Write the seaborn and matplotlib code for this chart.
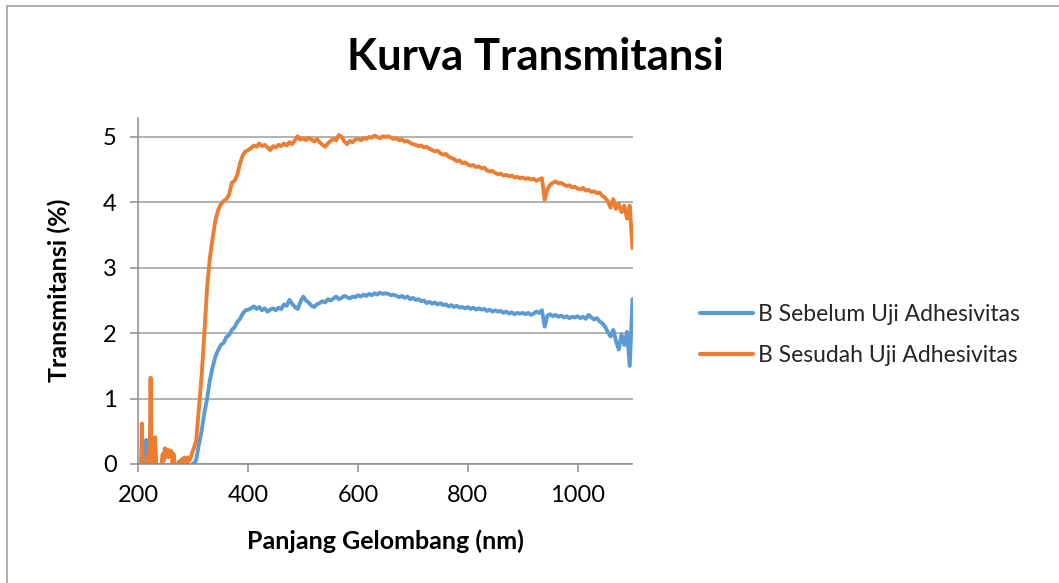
import numpy as np
import pandas as pd
import matplotlib
matplotlib.use("Agg")
import matplotlib.pyplot as plt
from matplotlib.lines import Line2D
import seaborn as sns

# ---------------- data ----------------
series_names = ["B Sebelum Uji Adhesivitas", "B Sesudah Uji Adhesivitas"]
colors = ["#5B9BD5", "#ED7D31"]

# wavelength grids (nm)
wl_noise = np.arange(200, 301, 2)      # 200..300 nm, 2 nm step
wl_main = np.arange(305, 1101, 5)      # 305..1100 nm, 5 nm step

sebelum_noise = [
    -0.5, -0.4, -0.6, -0.3, -0.5, -0.2, 0.0, 0.37, 0.10, -0.3,
    -0.4, -0.2, -0.5, -0.3, -0.4, -0.2, -0.3, -0.5, -0.4, -0.3,
    -0.4, -0.3, -0.2, -0.3, -0.2, -0.3, -0.2, -0.3, -0.2, -0.3,
    -0.2, -0.1, 0.0, -0.1, -0.2, -0.1, -0.2, -0.1, 0.0, 0.04,
    0.06, 0.0, -0.1, -0.05, -0.1, -0.05, -0.1, -0.05, -0.03, 0.0,
    0.0,
]
sesudah_noise = [
    -0.3, -0.2, -0.4, 0.62, -0.3, -0.1, 0.0, -0.2, 0.12, 0.0,
    -0.3, 1.32, -0.2, 0.0, -0.1, 0.41, 0.05, -0.3, -0.2, -0.4,
    -0.1, 0.0, 0.15, 0.05, 0.24, 0.20, 0.22, 0.10, 0.21, 0.15,
    0.20, 0.0, 0.15, 0.0, -0.2, -0.3, -0.1, 0.04, -0.1, 0.06,
    0.08, -0.05, 0.10, 0.02, -0.1, 0.10, 0.05, 0.08, 0.12, 0.18,
    0.22,
]

sebelum_main = [
    0.06, 0.30, 0.50, 0.78, 1.00, 1.28, 1.48, 1.64, 1.74, 1.82,
    1.85, 1.94, 1.97, 2.05, 2.09, 2.17, 2.22, 2.30, 2.35, 2.36,
    2.38, 2.41, 2.37, 2.40, 2.35, 2.38, 2.33, 2.36, 2.38, 2.35,
    2.39, 2.37, 2.44, 2.42, 2.51, 2.45, 2.40, 2.37, 2.48, 2.56,
    2.50, 2.47, 2.42, 2.40, 2.44, 2.46, 2.49, 2.47, 2.52, 2.50,
    2.53, 2.56, 2.52, 2.54, 2.57, 2.55, 2.53, 2.56, 2.55, 2.58,
    2.56, 2.59, 2.57, 2.60, 2.58, 2.61, 2.59, 2.62, 2.60, 2.61,
    2.60, 2.58, 2.59, 2.57, 2.55, 2.57, 2.54, 2.56, 2.52, 2.54,
    2.51, 2.52, 2.49, 2.50, 2.46, 2.48, 2.45, 2.47, 2.44, 2.46,
    2.43, 2.44, 2.41, 2.43, 2.40, 2.42, 2.39, 2.40, 2.38, 2.40,
    2.37, 2.39, 2.36, 2.38, 2.36, 2.37, 2.34, 2.36, 2.33, 2.35,
    2.33, 2.34, 2.31, 2.33, 2.30, 2.32, 2.29, 2.31, 2.30, 2.31,
    2.29, 2.31, 2.28, 2.30, 2.33, 2.31, 2.35, 2.10, 2.27, 2.29,
    2.26, 2.28, 2.25, 2.27, 2.24, 2.26, 2.23, 2.25, 2.24, 2.26,
    2.23, 2.25, 2.22, 2.28, 2.24, 2.21, 2.23, 2.18, 2.15, 2.10,
    2.02, 1.95, 2.05, 1.88, 1.75, 1.98, 1.82, 2.02, 1.50, 2.52,
]
sesudah_main = [
    0.35, 0.85, 1.35, 2.00, 2.70, 3.15, 3.45, 3.72, 3.88, 3.97,
    4.02, 4.05, 4.12, 4.30, 4.33, 4.42, 4.60, 4.72, 4.78, 4.80,
    4.83, 4.87, 4.85, 4.90, 4.86, 4.88, 4.84, 4.80, 4.86, 4.84,
    4.88, 4.86, 4.90, 4.87, 4.92, 4.89, 4.95, 5.01, 4.96, 4.98,
    4.95, 4.99, 4.96, 4.93, 4.97, 4.92, 4.88, 4.85, 4.90, 4.94,
    4.97, 4.95, 5.03, 5.00, 4.93, 4.89, 4.94, 4.92, 4.96, 4.97,
    4.95, 4.98, 4.97, 5.00, 4.99, 5.02, 5.00, 4.98, 5.01, 5.00,
    5.01, 4.99, 4.97, 4.98, 4.95, 4.96, 4.93, 4.94, 4.91, 4.89,
    4.88, 4.86, 4.87, 4.84, 4.85, 4.82, 4.80, 4.78, 4.79, 4.75,
    4.73, 4.74, 4.70, 4.68, 4.66, 4.63, 4.64, 4.60, 4.61, 4.58,
    4.56, 4.57, 4.54, 4.55, 4.52, 4.53, 4.49, 4.47, 4.48, 4.45,
    4.43, 4.44, 4.41, 4.42, 4.40, 4.41, 4.38, 4.39, 4.37, 4.38,
    4.36, 4.37, 4.35, 4.36, 4.33, 4.35, 4.37, 4.04, 4.20, 4.27,
    4.30, 4.32, 4.29, 4.30, 4.27, 4.25, 4.26, 4.23, 4.24, 4.21,
    4.20, 4.22, 4.18, 4.19, 4.16, 4.17, 4.14, 4.15, 4.10, 4.07,
    4.02, 3.92, 4.05, 3.90, 3.98, 3.85, 3.95, 3.75, 3.95, 3.30,
]

x_ticks = [200, 400, 600, 800, 1000]
y_ticks = [0, 1, 2, 3, 4, 5]

wavelength = np.concatenate([wl_noise, wl_main])
df = pd.concat([
    pd.DataFrame({"wl": wavelength, "T": np.array(sebelum_noise + sebelum_main), "seri": series_names[0]}),
    pd.DataFrame({"wl": wavelength, "T": np.array(sesudah_noise + sesudah_main), "seri": series_names[1]}),
], ignore_index=True)

# ---------------- style ----------------
sns.set_theme(style="white")
plt.rcParams["font.family"] = ["Lato", "DejaVu Sans"]

W, H = 1059, 583
fig = plt.figure(figsize=(W / 100, H / 100), dpi=100)
fig.patch.set_facecolor("white")

ax_left, ax_right = 138.5, 632.5
ax_bottom_px, ax_top_px = 464, 118
ax = fig.add_axes([ax_left / W, 1 - ax_bottom_px / H,
                   (ax_right - ax_left) / W, (ax_bottom_px - ax_top_px) / H])

sns.lineplot(data=df, x="wl", y="T", hue="seri", palette=colors,
             hue_order=series_names, estimator=None, sort=False,
             linewidth=2.8, ax=ax, legend=True)

ax.set_xlim(200, 1100)
ax.set_ylim(0, 5.29)
ax.set_xticks(x_ticks)
ax.set_yticks(y_ticks)
ax.set_xticklabels([str(v) for v in x_ticks])
ax.set_yticklabels([str(v) for v in y_ticks])
ax.set_xlabel("")
ax.set_ylabel("")

ax.yaxis.grid(True, color="#a6a6a6", linewidth=1.2)
ax.xaxis.grid(False)
ax.set_axisbelow(True)
for s in ["top", "right"]:
    ax.spines[s].set_visible(False)
for s in ["left", "bottom"]:
    ax.spines[s].set_color("#8c8c8c")
    ax.spines[s].set_linewidth(1.1)

ax.tick_params(axis="both", which="major", direction="out", length=5.8,
               width=1.1, color="#8c8c8c", labelsize=17, labelcolor="black")
ax.tick_params(axis="y", pad=10, left=True)
ax.tick_params(axis="x", pad=9, bottom=True)

# legend
handles, labels = ax.get_legend_handles_labels()
ax.legend(handles=handles, labels=labels, loc="center left",
          bbox_to_anchor=(700 / W, 1 - 335 / H), bbox_transform=fig.transFigure,
          frameon=False, fontsize=16.5, handlelength=2.3, handletextpad=0.25,
          labelspacing=0.85, borderpad=0, borderaxespad=0)
for lh in ax.get_legend().get_lines():
    lh.set_linewidth(3.0)

# titles
fig.text(535 / W, 1 - 57 / H, "Kurva Transmitansi", ha="center", va="center",
         fontsize=31.5, fontweight="bold", color="black")
fig.text(59 / W, 1 - 290.5 / H, "Transmitansi (%)", ha="center", va="center",
         rotation=90, fontsize=18, fontweight="bold", color="black")
fig.text(385 / W, 1 - 541 / H, "Panjang Gelombang (nm)", ha="center", va="center",
         fontsize=18, fontweight="bold", color="black")

# chart-area border (left and top edges visible in the reference)
fig.add_artist(Line2D([6.7 / W, 6.7 / W], [0, 1 - 5.5 / H], transform=fig.transFigure,
                      color="#a6a6a6", linewidth=1.3))
fig.add_artist(Line2D([6.7 / W, 1], [1 - 5.5 / H, 1 - 5.5 / H], transform=fig.transFigure,
                      color="#a6a6a6", linewidth=1.3))

fig.savefig("out.png", dpi=100)
